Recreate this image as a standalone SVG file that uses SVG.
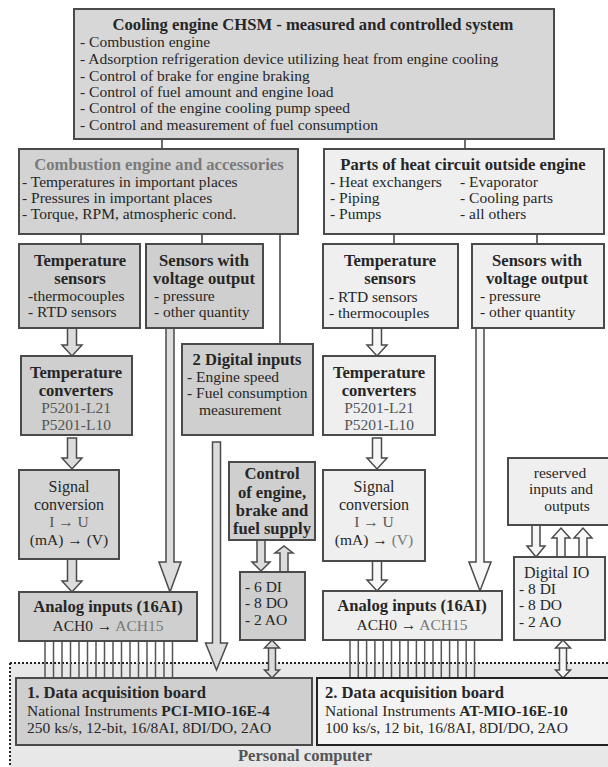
<svg xmlns="http://www.w3.org/2000/svg" width="608" height="767" viewBox="0 0 608 767">
<style>
text{font-family:"Liberation Serif","Times New Roman",serif;fill:#262626;font-size:15.5px}
.h{font-weight:bold;font-size:16.6px}
.c{text-anchor:middle}
.g{fill:#777}
.m{fill:#555}
.dk{fill:#cfcfcf;stroke:#4a4a4a;stroke-width:2}
.lt{fill:#efefef;stroke:#4a4a4a;stroke-width:2}
.ln{stroke:#4a4a4a;stroke-width:1.6;fill:none}
.al{fill:#dcdcdc;stroke:#4a4a4a;stroke-width:1.5;stroke-linejoin:miter}
.ar{fill:#f7f7f7;stroke:#4a4a4a;stroke-width:1.5;stroke-linejoin:miter}
.sig{stroke:#555;stroke-width:1.5}
</style>
<rect x="0" y="0" width="608" height="767" fill="#ffffff"/>

<g id="personal-computer">
<rect x="10" y="663" width="600" height="106" fill="#e8e8e8"/>
<path d="M10,663 H608 M10,663 V767" stroke="#222" stroke-width="2" stroke-dasharray="2,2" fill="none"/>
<text class="h c" x="305" y="761" style="fill:#555">Personal computer</text>
</g>

<g id="connectors">
<path class="ln" d="M162,139 V149 M465,139 V149 M81,234 V244 M202,234 V244 M280,234 V344 M394,234 V244 M537,234 V244"/>
<g class="sig">
<path d="M45,641V678M53.5,641V678M62,641V678M70.5,641V678M79,641V678M87.5,641V678M96,641V678M104.5,641V678M113,641V678M121.5,641V678M130,641V678M138.5,641V678M147,641V678M155.5,641V678M164,641V678M172.5,641V678"/>
<path d="M350,640V678M358.3,640V678M366.6,640V678M374.9,640V678M383.2,640V678M391.5,640V678M399.8,640V678M408.1,640V678M416.4,640V678M424.7,640V678M433,640V678M441.3,640V678M449.6,640V678M457.9,640V678M466.2,640V678M474.5,640V678"/>
</g>
<polygon class="al" points="67.5,328 76.5,328 76.5,345 82,345 72,356 62,345 67.5,345"/>
<polygon class="al" points="67.5,438 76.5,438 76.5,458 82,458 72,469 62,458 67.5,458"/>
<polygon class="al" points="67.5,559 76.5,559 76.5,581 82,581 72,592 62,581 67.5,581"/>
<polygon class="al" points="166,328 174,328 174,562 181,562 170,592 159,562 166,562"/>
<polygon class="al" points="212.5,442 220.5,442 220.5,643 227.5,643 216.5,670 205.5,643 212.5,643"/>
<polygon class="al" points="257,540 265,540 265,562 270,562 261,571 252,562 257,562"/>
<polygon class="al" points="280,572 288,572 288,553 293,553 284,546 275,553 280,553"/>
<polygon class="al" points="268.5,648 275.5,648 275.5,670 279.5,670 272,678 264.5,670 268.5,670 268.5,648 264.5,648 272,640 279.5,648 275.5,648"/>
<polygon class="ar" points="372.5,328 381.5,328 381.5,345 387,345 377,356 367,345 372.5,345"/>
<polygon class="ar" points="372.5,438 381.5,438 381.5,458 387,458 377,469 367,458 372.5,458"/>
<polygon class="ar" points="372.5,561 381.5,561 381.5,580 387,580 377,591 367,580 372.5,580"/>
<polygon class="ar" points="476,328 484,328 484,562 491,562 480,591 469,562 476,562"/>
<polygon class="ar" points="532,525 540,525 540,546 545,546 536,557 527,546 532,546"/>
<polygon class="ar" points="557,557 565,557 565,538 570,538 561,528 552,538 557,538"/>
<polygon class="ar" points="579,557 587,557 587,538 592,538 583,528 574,538 579,538"/>
<polygon class="ar" points="559.5,648 566.5,648 566.5,670 570.5,670 563,678 555.5,670 559.5,670 559.5,648 555.5,648 563,640 570.5,648 566.5,648"/>
</g>

<g id="cooling-engine">
<rect x="74" y="9" width="480" height="130" fill="#d7d7d7" stroke="#4a4a4a" stroke-width="2"/>
<text class="h c" x="313" y="30">Cooling engine CHSM - measured and controlled system</text>
<text x="80" y="47">- Combustion engine</text>
<text x="80" y="64">- Adsorption refrigeration device utilizing heat from engine cooling</text>
<text x="80" y="80.5">- Control of brake for engine braking</text>
<text x="80" y="96.5">- Control of fuel amount and engine load</text>
<text x="80" y="113">- Control of the engine cooling pump speed</text>
<text x="80" y="129.5">- Control and measurement of fuel consumption</text>
</g>

<g id="combustion-engine">
<rect x="19" y="149" width="279" height="85" fill="#d3d3d3" stroke="#4a4a4a" stroke-width="2"/>
<text class="h c" x="159" y="170" style="fill:#7a7a7a">Combustion engine and accessories</text>
<text x="22" y="187">- Temperatures in important places</text>
<text x="22" y="203">- Pressures in important places</text>
<text x="22" y="219">- Torque, RPM, atmospheric cond.</text>
</g>

<g id="heat-circuit">
<rect x="324" y="149" width="280" height="85" class="lt"/>
<text class="h c" x="463" y="170">Parts of heat circuit outside engine</text>
<text x="330" y="187">- Heat exchangers</text>
<text x="330" y="203">- Piping</text>
<text x="330" y="219">- Pumps</text>
<text x="460" y="187">- Evaporator</text>
<text x="460" y="203">- Cooling parts</text>
<text x="460" y="219">- all others</text>
</g>

<g id="temp-sensors-1">
<rect x="19" y="244" width="121" height="84" class="dk"/>
<text class="h c" x="80" y="266">Temperature</text>
<text class="h c" x="80" y="284">sensors</text>
<text x="28" y="301">-thermocouples</text>
<text x="28" y="317">- RTD sensors</text>
</g>

<g id="voltage-sensors-1">
<rect x="146" y="244" width="117" height="84" class="dk"/>
<text class="h c" x="204" y="266">Sensors with</text>
<text class="h c" x="204" y="284">voltage output</text>
<text x="154" y="301">- pressure</text>
<text x="154" y="317">- other quantity</text>
</g>

<g id="digital-inputs">
<rect x="182" y="344" width="131" height="91" class="dk"/>
<text class="h c" x="247" y="365">2 Digital inputs</text>
<text x="187" y="382">-  Engine speed</text>
<text x="187" y="398">-  Fuel consumption</text>
<text x="199" y="415">measurement</text>
</g>

<g id="temp-converters-1">
<rect x="21" y="356" width="111" height="79" class="dk"/>
<text class="h c" x="76" y="378">Temperature</text>
<text class="h c" x="76" y="396">converters</text>
<text class="c m" x="76" y="413">P5201-L21</text>
<text class="c m" x="76" y="430">P5201-L10</text>
</g>

<g id="signal-conversion-1">
<rect x="19" y="470" width="100" height="89" class="dk" style="fill:#d4d4d4"/>
<text class="c" x="69" y="492" style="font-size:16px">Signal</text>
<text class="c" x="69" y="510" style="font-size:16px">conversion</text>
<text class="c m" x="69" y="527">I → U</text>
<text class="c" x="69" y="545">(mA) → (V)</text>
</g>

<g id="control">
<rect x="229" y="462" width="86" height="78" class="dk"/>
<text class="h c" x="272" y="479">Control</text>
<text class="h c" x="272" y="498">of engine,</text>
<text class="h c" x="272" y="516">brake and</text>
<text class="h c" x="272" y="534">fuel supply</text>
</g>

<g id="io-1">
<rect x="240" y="572" width="65" height="68" class="dk"/>
<text x="245" y="592">- 6 DI</text>
<text x="245" y="608">- 8 DO</text>
<text x="245" y="625">- 2 AO</text>
</g>

<g id="analog-inputs-1">
<rect x="19" y="592" width="178" height="49" class="dk"/>
<text class="h c" x="108" y="612">Analog inputs (16AI)</text>
<text class="c" x="108" y="631"><tspan>ACH0 → </tspan><tspan style="fill:#777">ACH15</tspan></text>
</g>

<g id="temp-sensors-2">
<rect x="323" y="244" width="135" height="84" class="lt"/>
<text class="h c" x="390" y="266">Temperature</text>
<text class="h c" x="390" y="284">sensors</text>
<text x="329" y="302">- RTD sensors</text>
<text x="329" y="318">- thermocouples</text>
</g>

<g id="voltage-sensors-2">
<rect x="472" y="244" width="132" height="84" class="lt"/>
<text class="h c" x="537" y="266">Sensors with</text>
<text class="h c" x="537" y="284">voltage output</text>
<text x="480" y="301">- pressure</text>
<text x="480" y="317">- other quantity</text>
</g>

<g id="temp-converters-2">
<rect x="323" y="356" width="112" height="79" class="lt"/>
<text class="h c" x="379" y="378">Temperature</text>
<text class="h c" x="379" y="396">converters</text>
<text class="c m" x="379" y="413">P5201-L21</text>
<text class="c m" x="379" y="430">P5201-L10</text>
</g>

<g id="signal-conversion-2">
<rect x="323" y="470" width="102" height="91" class="lt"/>
<text class="c" x="374" y="492" style="font-size:16px">Signal</text>
<text class="c" x="374" y="510" style="font-size:16px">conversion</text>
<text class="c m" x="374" y="527">I → U</text>
<text class="c" x="374" y="545"><tspan>(mA) → </tspan><tspan style="fill:#777">(V)</tspan></text>
</g>

<g id="analog-inputs-2">
<rect x="323" y="591" width="179" height="49" class="lt"/>
<text class="h c" x="412" y="611">Analog inputs (16AI)</text>
<text class="c" x="412" y="630"><tspan>ACH0 → </tspan><tspan style="fill:#777">ACH15</tspan></text>
</g>

<g id="reserved-io">
<rect x="508" y="458" width="101" height="67" class="lt"/>
<text class="c" x="560" y="478">reserved</text>
<text class="c" x="561" y="494">inputs and</text>
<text class="c" x="567" y="511">outputs</text>
</g>

<g id="digital-io">
<rect x="514" y="557" width="91" height="83" class="lt"/>
<text x="524" y="578" style="font-size:16px">Digital IO</text>
<text x="519" y="594">- 8 DI</text>
<text x="519" y="610">- 8 DO</text>
<text x="519" y="627">- 2 AO</text>
</g>

<g id="daq-board-1">
<rect x="16" y="678" width="296" height="67" fill="#cfcfcf" stroke="#4a4a4a" stroke-width="2"/>
<text class="h" x="27" y="698">1. Data acquisition board</text>
<text x="27" y="716">National Instruments <tspan font-weight="bold">PCI-MIO-16E-4</tspan></text>
<text x="27" y="733">250 ks/s, 12-bit, 16/8AI, 8DI/DO, 2AO</text>
</g>

<g id="daq-board-2">
<rect x="317" y="678" width="292" height="67" fill="#f3f3f3" stroke="#222" stroke-width="2"/>
<text class="h" x="325" y="698">2. Data acquisition board</text>
<text x="325" y="716">National Instruments  <tspan font-weight="bold">AT-MIO-16E-10</tspan></text>
<text x="325" y="733">100 ks/s, 12 bit, 16/8AI, 8DI/DO, 2AO</text>
</g>
</svg>
